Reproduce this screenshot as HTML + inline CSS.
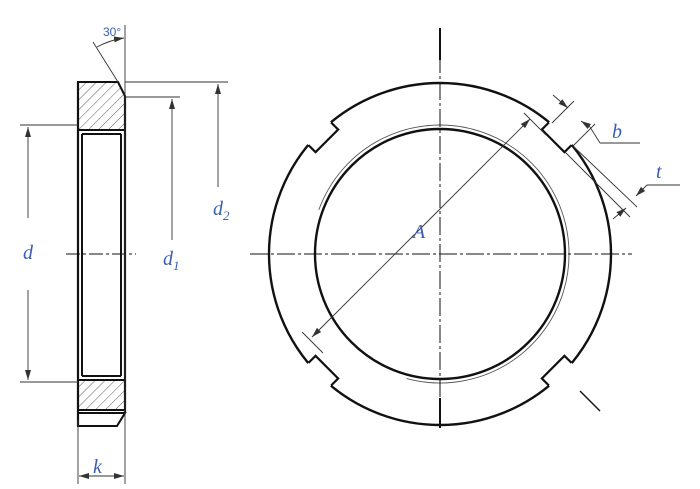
<!DOCTYPE html>
<html><head><style>
html,body{margin:0;padding:0;background:#fff;width:700px;height:489px;overflow:hidden}
svg{display:block}
.lbl{font-family:"Liberation Serif",serif;font-style:italic;fill:#3a5db5;font-size:20px}
</style></head><body>
<svg width="700" height="489" viewBox="0 0 700 489" xmlns="http://www.w3.org/2000/svg">
<defs>
<pattern id="h" patternUnits="userSpaceOnUse" width="7" height="7" patternTransform="rotate(45)">
<line x1="0" y1="0" x2="0" y2="7" stroke="#333" stroke-width="0.8"/>
</pattern>
<marker id="ar" markerWidth="10" markerHeight="6" refX="10" refY="3" orient="auto" markerUnits="userSpaceOnUse">
<path d="M0,0 L10,3 L0,6 z" fill="#333"/>
</marker>
</defs>
<!-- LEFT VIEW -->
<g stroke="#111" fill="none">
<path d="M78,82 L118,82 L125,96 L125,130 L78,130 Z" fill="url(#h)" stroke-width="2"/>
<path d="M78,380 L125,380 L125,410 L78,410 Z" fill="url(#h)" stroke-width="2"/>
<path d="M78,413 L125,413 L117,426 L78,426 Z" stroke-width="2"/>
<path d="M78,82 L78,426 M125,96 L125,412" stroke-width="2.2"/>
<path d="M82,134 L82,376 M121,134 L121,376 M82,134 L121,134 M82,376 L121,376" stroke-width="2"/>
<path d="M66,254 L136,254" stroke-width="1" stroke-dasharray="14,3,3,3"/>
</g>
<g stroke="#333" stroke-width="0.9" fill="none">
<line x1="125" y1="25" x2="125" y2="484"/>
<line x1="78" y1="420" x2="78" y2="484"/>
<line x1="93" y1="42" x2="118" y2="82"/>
<path d="M97,47 Q110,40 124,38" marker-end="url(#ar)"/>
<line x1="20" y1="125" x2="78" y2="125"/>
<line x1="20" y1="382" x2="78" y2="382"/>
<line x1="28" y1="218" x2="28" y2="127" marker-end="url(#ar)"/>
<line x1="28" y1="290" x2="28" y2="380" marker-end="url(#ar)"/>
<line x1="125" y1="97" x2="180" y2="97"/>
<line x1="172" y1="240" x2="172" y2="99" marker-end="url(#ar)"/>
<line x1="125" y1="82" x2="228" y2="82"/>
<line x1="218" y1="187" x2="218" y2="84" marker-end="url(#ar)"/>
<line x1="100" y1="476" x2="79" y2="476" marker-end="url(#ar)"/>
<line x1="100" y1="476" x2="124" y2="476" marker-end="url(#ar)"/>
</g>
<text x="103" y="36" font-family="Liberation Sans,sans-serif" font-size="12" fill="#3a5db5">30°</text>
<text x="23" y="259" class="lbl">d</text>
<text x="163" y="265" class="lbl">d<tspan font-size="13" dy="5">1</tspan></text>
<text x="213" y="215" class="lbl">d<tspan font-size="13" dy="5">2</tspan></text>
<text x="93" y="473" class="lbl">k</text>
<!-- RIGHT VIEW -->
<g transform="translate(440,254)">
<circle r="171" fill="none" stroke="#111" stroke-width="2.4"/>
<g stroke="#111" stroke-width="2.2">
<g transform="rotate(-45)"><rect x="158" y="-16" width="18" height="32" fill="#fff" stroke="none"/><path d="M170,-16 L160,-16 L160,16 L170,16" fill="none"/></g>
<g transform="rotate(-135)"><rect x="158" y="-16" width="18" height="32" fill="#fff" stroke="none"/><path d="M170,-16 L160,-16 L160,16 L170,16" fill="none"/></g>
<g transform="rotate(135)"><rect x="158" y="-16" width="18" height="32" fill="#fff" stroke="none"/><path d="M170,-16 L160,-16 L160,16 L170,16" fill="none"/></g>
<g transform="rotate(45)"><rect x="158" y="-16" width="18" height="32" fill="#fff" stroke="none"/><path d="M170,-16 L160,-16 L160,16 L170,16" fill="none"/></g>
</g>
<circle r="125" fill="none" stroke="#111" stroke-width="2.4"/>
<path d="M-33.4,124.6 A129,129 0 1 0 -121.2,-44.1" fill="none" stroke="#555" stroke-width="0.9"/>
</g>
<g stroke="#111" stroke-width="1" fill="none" stroke-dasharray="18,3,3,3">
<line x1="440" y1="28" x2="440" y2="428"/>
<line x1="250" y1="254" x2="632" y2="254"/>
</g>
<line x1="440" y1="28" x2="440" y2="60" stroke="#111" stroke-width="2"/>
<line x1="440" y1="398" x2="440" y2="428" stroke="#111" stroke-width="2"/>
<line x1="580" y1="391" x2="600" y2="411" stroke="#111" stroke-width="1.4"/>
<g stroke="#333" stroke-width="0.9" fill="none">
<!-- A -->
<line x1="420" y1="229" x2="530" y2="119" marker-end="url(#ar)"/>
<line x1="420" y1="229" x2="312" y2="337" marker-end="url(#ar)"/>
<line x1="524" y1="113" x2="546" y2="135"/>
<line x1="302" y1="332" x2="323" y2="353"/>
<!-- b -->
<line x1="552" y1="123" x2="574" y2="101"/>
<line x1="573" y1="146" x2="595" y2="124"/>
<line x1="553" y1="95" x2="568" y2="108" marker-end="url(#ar)"/>
<line x1="600" y1="143" x2="590" y2="127"/>
<line x1="590" y1="127" x2="581" y2="121" marker-end="url(#ar)"/>
<line x1="600" y1="143" x2="640" y2="143"/>
<!-- t -->
<line x1="565" y1="152" x2="630" y2="217"/>
<line x1="573" y1="146" x2="637" y2="207"/>
<line x1="680" y1="185" x2="647" y2="185"/>
<line x1="647" y1="185" x2="636" y2="196" marker-end="url(#ar)"/>
<line x1="613" y1="219" x2="626" y2="208" marker-end="url(#ar)"/>
</g>
<text x="612" y="138" class="lbl">b</text>
<text x="656" y="178" class="lbl">t</text>
<text x="413" y="238" class="lbl">A</text>
</svg>
</body></html>
